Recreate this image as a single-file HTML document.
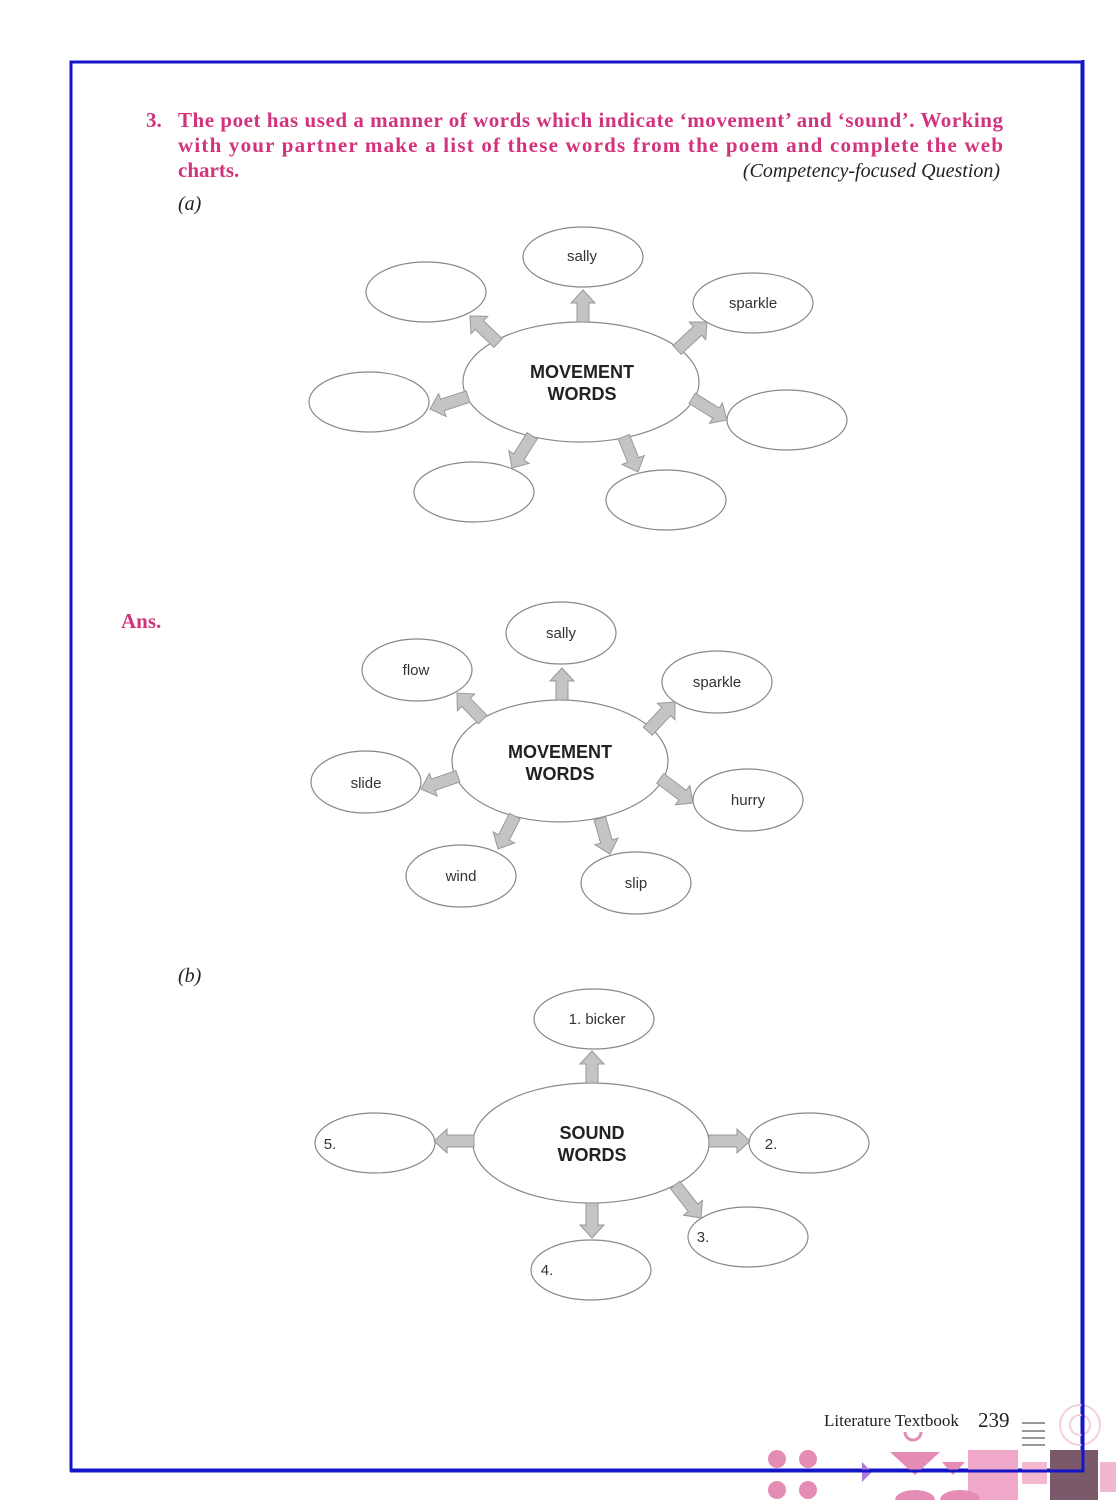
<!DOCTYPE html>
<html><head><meta charset="utf-8"><style>
html,body{margin:0;padding:0;background:#fff;}
svg{display:block;}
.q{font-family:"Liberation Serif",serif;font-weight:bold;font-size:21px;fill:#d2337c;}
.it{font-family:"Liberation Serif",serif;font-style:italic;font-size:20px;fill:#222;}
.e{fill:#fff;stroke:#888;stroke-width:1.2;}
.lab{font-family:"Liberation Sans",sans-serif;font-size:15px;fill:#333;text-anchor:middle;}
.big{font-family:"Liberation Sans",sans-serif;font-weight:600;font-size:18px;fill:#222;text-anchor:middle;}
.ar{fill:#c4c4c4;stroke:#999;stroke-width:1;}
</style></head><body>
<svg width="1116" height="1500" viewBox="0 0 1116 1500" xmlns="http://www.w3.org/2000/svg">
<rect x="71" y="62" width="1011" height="1408" fill="none" stroke="#1414c8" stroke-width="3"/>

<text class="q" x="146" y="127">3.</text>
<text class="q" x="178" y="127" textLength="825" lengthAdjust="spacing">The poet has used a manner of words which indicate ‘movement’ and ‘sound’. Working</text>
<text class="q" x="178" y="152" textLength="825" lengthAdjust="spacing">with your partner make a list of these words from the poem and complete the web</text>
<text class="q" x="178" y="177">charts.</text>
<text class="it" x="1000" y="177" text-anchor="end">(Competency-focused Question)</text>
<text class="it" x="178" y="210">(a)</text>
<text class="q" x="121" y="628">Ans.</text>
<text class="it" x="178" y="982">(b)</text>

<g>
<ellipse class="e" cx="581" cy="382" rx="118" ry="60"/>
<text class="big" x="582" y="378">MOVEMENT</text><text class="big" x="582" y="400">WORDS</text>
<ellipse class="e" cx="583" cy="257" rx="60" ry="30"/><text class="lab" x="582" y="261">sally</text>
<ellipse class="e" cx="426" cy="292" rx="60" ry="30"/>
<ellipse class="e" cx="753" cy="303" rx="60" ry="30"/><text class="lab" x="753" y="308">sparkle</text>
<ellipse class="e" cx="369" cy="402" rx="60" ry="30"/>
<ellipse class="e" cx="787" cy="420" rx="60" ry="30"/>
<ellipse class="e" cx="474" cy="492" rx="60" ry="30"/>
<ellipse class="e" cx="666" cy="500" rx="60" ry="30"/>
</g>

<g>
<ellipse class="e" cx="560" cy="761" rx="108" ry="61"/>
<text class="big" x="560" y="758">MOVEMENT</text><text class="big" x="560" y="780">WORDS</text>
<ellipse class="e" cx="561" cy="633" rx="55" ry="31"/><text class="lab" x="561" y="638">sally</text>
<ellipse class="e" cx="417" cy="670" rx="55" ry="31"/><text class="lab" x="416" y="675">flow</text>
<ellipse class="e" cx="717" cy="682" rx="55" ry="31"/><text class="lab" x="717" y="687">sparkle</text>
<ellipse class="e" cx="366" cy="782" rx="55" ry="31"/><text class="lab" x="366" y="788">slide</text>
<ellipse class="e" cx="748" cy="800" rx="55" ry="31"/><text class="lab" x="748" y="805">hurry</text>
<ellipse class="e" cx="461" cy="876" rx="55" ry="31"/><text class="lab" x="461" y="881">wind</text>
<ellipse class="e" cx="636" cy="883" rx="55" ry="31"/><text class="lab" x="636" y="888">slip</text>
</g>

<g>
<ellipse class="e" cx="591" cy="1143" rx="118" ry="60"/>
<text class="big" x="592" y="1139">SOUND</text><text class="big" x="592" y="1161">WORDS</text>
<ellipse class="e" cx="594" cy="1019" rx="60" ry="30"/><text class="lab" x="597" y="1024">1. bicker</text>
<ellipse class="e" cx="375" cy="1143" rx="60" ry="30"/><text class="lab" x="330" y="1149">5.</text>
<ellipse class="e" cx="809" cy="1143" rx="60" ry="30"/><text class="lab" x="771" y="1149">2.</text>
<ellipse class="e" cx="748" cy="1237" rx="60" ry="30"/><text class="lab" x="703" y="1242">3.</text>
<ellipse class="e" cx="591" cy="1270" rx="60" ry="30"/><text class="lab" x="547" y="1275">4.</text>
</g>

<g class="ar">
<polygon transform="translate(583,290) rotate(-90)" points="0,0 -13,-12 -13,-6 -32,-6 -32,6 -13,6 -13,12"/>
<polygon transform="translate(470,316) rotate(-136)" points="0,0 -13,-12 -13,-6 -39,-6 -39,6 -13,6 -13,12"/>
<polygon transform="translate(707,322) rotate(-43)" points="0,0 -13,-12 -13,-6 -41,-6 -41,6 -13,6 -13,12"/>
<polygon transform="translate(430,409) rotate(162)" points="0,0 -13,-12 -13,-6 -40,-6 -40,6 -13,6 -13,12"/>
<polygon transform="translate(727,420) rotate(32)" points="0,0 -13,-12 -13,-6 -41,-6 -41,6 -13,6 -13,12"/>
<polygon transform="translate(512,468) rotate(122)" points="0,0 -13,-12 -13,-6 -38,-6 -38,6 -13,6 -13,12"/>
<polygon transform="translate(638,472) rotate(68)" points="0,0 -13,-12 -13,-6 -38,-6 -38,6 -13,6 -13,12"/>
<polygon transform="translate(562,668) rotate(-90)" points="0,0 -13,-12 -13,-6 -32,-6 -32,6 -13,6 -13,12"/>
<polygon transform="translate(457,693) rotate(-134)" points="0,0 -13,-12 -13,-6 -37,-6 -37,6 -13,6 -13,12"/>
<polygon transform="translate(675,702) rotate(-47)" points="0,0 -13,-12 -13,-6 -40,-6 -40,6 -13,6 -13,12"/>
<polygon transform="translate(421,789) rotate(161)" points="0,0 -13,-12 -13,-6 -39,-6 -39,6 -13,6 -13,12"/>
<polygon transform="translate(693,803) rotate(37)" points="0,0 -13,-12 -13,-6 -41,-6 -41,6 -13,6 -13,12"/>
<polygon transform="translate(498,849) rotate(117)" points="0,0 -13,-12 -13,-6 -37,-6 -37,6 -13,6 -13,12"/>
<polygon transform="translate(610,854) rotate(74)" points="0,0 -13,-12 -13,-6 -37,-6 -37,6 -13,6 -13,12"/>
<polygon transform="translate(592,1051) rotate(-90)" points="0,0 -13,-12 -13,-6 -32,-6 -32,6 -13,6 -13,12"/>
<polygon transform="translate(434,1141) rotate(180)" points="0,0 -13,-12 -13,-6 -40,-6 -40,6 -13,6 -13,12"/>
<polygon transform="translate(750,1141) rotate(0)" points="0,0 -13,-12 -13,-6 -41,-6 -41,6 -13,6 -13,12"/>
<polygon transform="translate(701,1218) rotate(52)" points="0,0 -13,-12 -13,-6 -42,-6 -42,6 -13,6 -13,12"/>
<polygon transform="translate(592,1238) rotate(90)" points="0,0 -13,-12 -13,-6 -35,-6 -35,6 -13,6 -13,12"/>
</g>

<text x="824" y="1426" font-family="Liberation Serif,serif" font-size="17" fill="#222">Literature Textbook</text>
<text x="978" y="1427" font-family="Liberation Serif,serif" font-size="21" fill="#222">239</text>
<g stroke="#777" stroke-width="1.5"><line x1="1022" y1="1423" x2="1045" y2="1423"/><line x1="1022" y1="1431" x2="1045" y2="1431"/><line x1="1022" y1="1438" x2="1045" y2="1438"/><line x1="1022" y1="1445" x2="1045" y2="1445"/></g>
<g fill="#e58cb4">
<circle cx="777" cy="1459" r="9"/><circle cx="808" cy="1459" r="9"/>
<circle cx="777" cy="1490" r="9"/><circle cx="808" cy="1490" r="9"/>
<polygon points="890,1452 940,1452 915,1475"/>
<polygon points="942,1462 965,1462 953,1475"/>
<rect x="968" y="1450" width="50" height="50" fill="#f0a8c8"/>
<rect x="1022" y="1462" width="25" height="22" fill="#f4b8d0"/>
<ellipse cx="915" cy="1500" rx="20" ry="10"/>
<ellipse cx="960" cy="1500" rx="20" ry="10"/>
<polygon points="862,1462 872,1472 862,1482" fill="#b07ad8"/>
</g>
<path d="M905 1432 a8 8 0 0 0 16 0" fill="none" stroke="#e58cb4" stroke-width="3"/>
<rect x="1050" y="1450" width="48" height="50" fill="#7a5a6a"/>
<rect x="1100" y="1462" width="16" height="30" fill="#f0b8d0"/>
<circle cx="1080" cy="1425" r="20" fill="none" stroke="#f2d0dc" stroke-width="2"/>
<circle cx="1080" cy="1425" r="10" fill="none" stroke="#f2d0dc" stroke-width="2"/>
<line x1="1083" y1="60" x2="1083" y2="1472" stroke="#1414c8" stroke-width="3"/>
<line x1="70" y1="1471" x2="1084" y2="1471" stroke="#1414c8" stroke-width="3"/>
</svg>
</body></html>
